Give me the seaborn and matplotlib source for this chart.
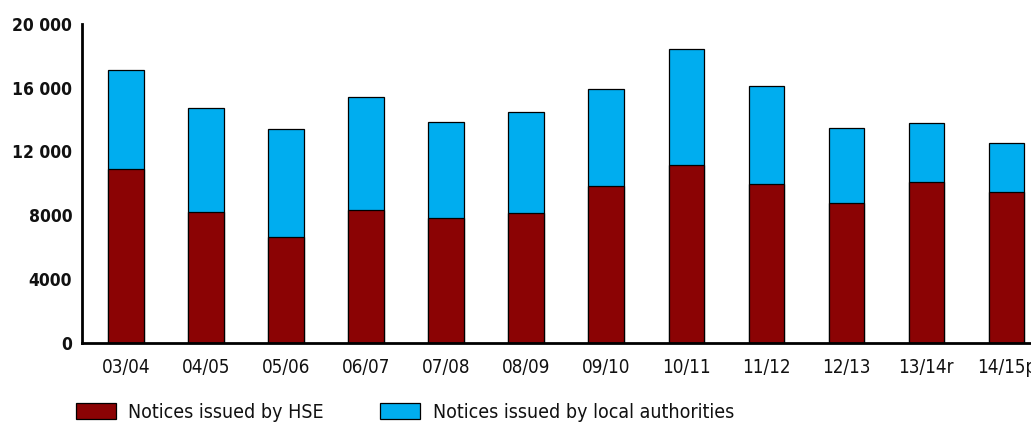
import numpy as np
import pandas as pd
import matplotlib
matplotlib.use('Agg')
import matplotlib.pyplot as plt
import seaborn as sns
from matplotlib.patches import Patch

years = ['03/04', '04/05', '05/06', '06/07', '07/08', '08/09',
         '09/10', '10/11', '11/12', '12/13', '13/14r', '14/15p']
hse = [10900, 8180, 6610, 8300, 7810, 8150, 9830, 11180, 9960, 8760, 10070, 9460]
local_auth = [6220, 6520, 6780, 7100, 6050, 6320, 6100, 7230, 6150, 4700, 3700, 3070]
ytick_vals = [0, 4000, 8000, 12000, 16000, 20000]
ytick_labels = ['0', '4000', '8000', '12 000', '16 000', '20 000']

red = '#8b0304'
blue = '#00adef'

df = pd.DataFrame({'year': years, 'hse': hse, 'la': local_auth})
df['total'] = df['hse'] + df['la']

sns.set_style('white')
plt.rcParams['font.family'] = ['DejaVu Sans']
plt.rcParams['font.stretch'] = 'condensed'
plt.rcParams['text.color'] = '#111111'
plt.rcParams['xtick.color'] = '#111111'
plt.rcParams['ytick.color'] = '#111111'

fig = plt.figure(figsize=(10.31, 4.25), dpi=100)
ax = fig.add_axes([0.0795, 0.1936, 0.9205, 0.75])

# total first (blue), HSE drawn over it
sns.barplot(data=df, x='year', y='total', color=blue, width=0.44,
            edgecolor='black', linewidth=0.9, saturation=1, ax=ax)
sns.barplot(data=df, x='year', y='hse', color=red, width=0.44,
            edgecolor='black', linewidth=0.9, saturation=1, ax=ax)

ax.set_ylim(0, 20000)
ax.set_xlim(-0.55, 11.31)
ax.set_yticks(ytick_vals)
ax.set_yticklabels(ytick_labels, fontsize=12.5, fontweight='bold')
ax.set_xticks(range(len(years)))
ax.set_xticklabels(years, fontsize=13.5)
ax.set_xticks([-0.5], minor=True)
ax.set_xlabel('')
ax.set_ylabel('')

for s in ['top', 'right']:
    ax.spines[s].set_visible(False)
for s in ['left', 'bottom']:
    ax.spines[s].set_color('black')
    ax.spines[s].set_linewidth(2)
ax.tick_params(axis='y', direction='out', length=5, width=1.5, color='black', pad=2)
ax.tick_params(axis='x', which='both', direction='out', length=5, width=1.5, color='black', pad=6)

handles = [Patch(facecolor=red, edgecolor='black', linewidth=0.9),
           Patch(facecolor=blue, edgecolor='black', linewidth=0.9)]
fig.legend(handles, ['Notices issued by HSE', 'Notices issued by local authorities'],
           loc='center left', bbox_to_anchor=(0.057, 0.03), ncol=2, frameon=False,
           fontsize=14, handlelength=2.06, handleheight=0.85, handletextpad=0.62,
           columnspacing=2.9)

fig.savefig('out.png', dpi=100)
